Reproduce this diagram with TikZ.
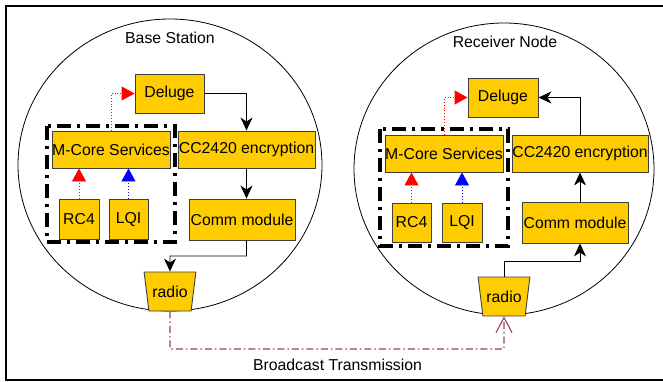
\documentclass[tikz,border=0pt]{standalone}
\usepackage{fontspec}
\setmainfont{Liberation Sans}
\usetikzlibrary{arrows.meta, shapes.geometric}

\definecolor{boxyellow}{HTML}{FFCC00}
\definecolor{bcast}{HTML}{963F68}

\begin{document}
\begin{tikzpicture}[x=1pt, y=-1pt,
	block/.style={draw=black!75, fill=boxyellow, inner sep=0pt, line width=0.9pt},
	radio/.style={trapezium, shape border rotate=180, trapezium angle=71, trapezium stretches=true, draw=black!75, fill=boxyellow, inner sep=0pt, line width=0.9pt, minimum width=52pt, minimum height=39pt},
	device/.style={ellipse, draw, line width=0.8pt, inner sep=0pt},
	group/.style={line width=3.2pt, dash pattern=on 14pt off 6pt on 3pt off 6pt},
	every node/.style={font=\fontsize{15.8}{18}\selectfont},
	flow/.style={->, line width=0.9pt},
	key/.style={dotted, line width=0.9pt, -{Triangle[length=13pt,width=14pt]}},
	>={Stealth[length=13pt,width=12pt,inset=4pt]}]
	\useasboundingbox (0,0) rectangle (663,382);
	\clip (0,0) rectangle (663,382);
	\draw[line width=2pt] (5.5,6) rectangle (690,379.5);

	% Devices
	\node[device, minimum width=304pt, minimum height=292pt] (bs) at (170,165) {};
	\node[device, minimum width=300pt, minimum height=292pt] (rn) at (504,169) {};
	\node (bsTitle) at (170,38) {Base Station};
	\node (rnTitle) at (505,42) {Receiver Node};

	% Base station nodes
	\draw[group] (47,126) rectangle (175,242);
	\node[block, minimum width=69pt, minimum height=39pt] (delugeL) at (169.5,93.5) {Deluge};
	\node[block, minimum width=118pt, minimum height=37pt] (mcoreL) at (111,149.5) {M-Core Services};
	\node[block, minimum width=137pt, minimum height=37pt] (ccL) at (246.5,149.5) {CC2420 encryption};
	\node[block, minimum width=40pt, minimum height=40pt] (rcL) at (79,219) {RC4};
	\node[block, minimum width=39pt, minimum height=40pt] (lqiL) at (128.5,219) {LQI};
	\node[block, minimum width=106pt, minimum height=41pt] (commL) at (242,219.5) {Comm module};
	\node[radio] (radioL) at (170,291.5) {radio};

	% Receiver nodes
	\draw[group] (380,129) rectangle (508,246);
	\node[block, minimum width=70pt, minimum height=39pt] (delugeR) at (503,97.5) {Deluge};
	\node[block, minimum width=118pt, minimum height=37pt] (mcoreR) at (444,153.5) {M-Core Services};
	\node[block, minimum width=136pt, minimum height=37pt] (ccR) at (580,153.5) {CC2420 encryption};
	\node[block, minimum width=39pt, minimum height=39pt] (rcR) at (411.5,222.5) {RC4};
	\node[block, minimum width=40pt, minimum height=39pt] (lqiR) at (462,222.5) {LQI};
	\node[block, minimum width=106pt, minimum height=41pt] (commR) at (575,222.5) {Comm module};
	\node[radio] (radioR) at (504,296.5) {radio};

	% Sending path
	\draw[flow] (delugeL.east) -| (ccL.north);
	\draw[flow] (ccL.south) -- (ccL.south |- commL.north);
	\draw[flow] (ccL.south |- commL.south) |- (170,256) -- (radioL.north);

	% Receiving path
	\draw[flow] (radioR.north) |- (580,261) -- (ccR.south |- commR.south);
	\draw[flow] (ccR.south |- commR.north) -- (ccR.south);
	\draw[flow] (ccR.north) |- (delugeR.east);

	% M-Core links
	\draw[key, red] (mcoreL.north) |- (delugeL.west);
	\draw[key, red] (rcL.north) -- (rcL.north |- mcoreL.south);
	\draw[key, blue] (lqiL.north) -- (lqiL.north |- mcoreL.south);
	\draw[key, red] (mcoreR.north) |- (delugeR.west);
	\draw[key, red] (rcR.north) -- (rcR.north |- mcoreR.south);
	\draw[key, blue] (lqiR.north) -- (lqiR.north |- mcoreR.south);

	% Broadcast
	\draw[bcast, line width=1.1pt, dash pattern=on 7pt off 3pt on 1.5pt off 3pt, -{Straight Barb[length=15pt,width=16pt]}] (radioL.south) |- (504,349) -- (radioR.south);
	\node (bcastLabel) at (337.5,365) {Broadcast Transmission};
\end{tikzpicture}
\end{document}
